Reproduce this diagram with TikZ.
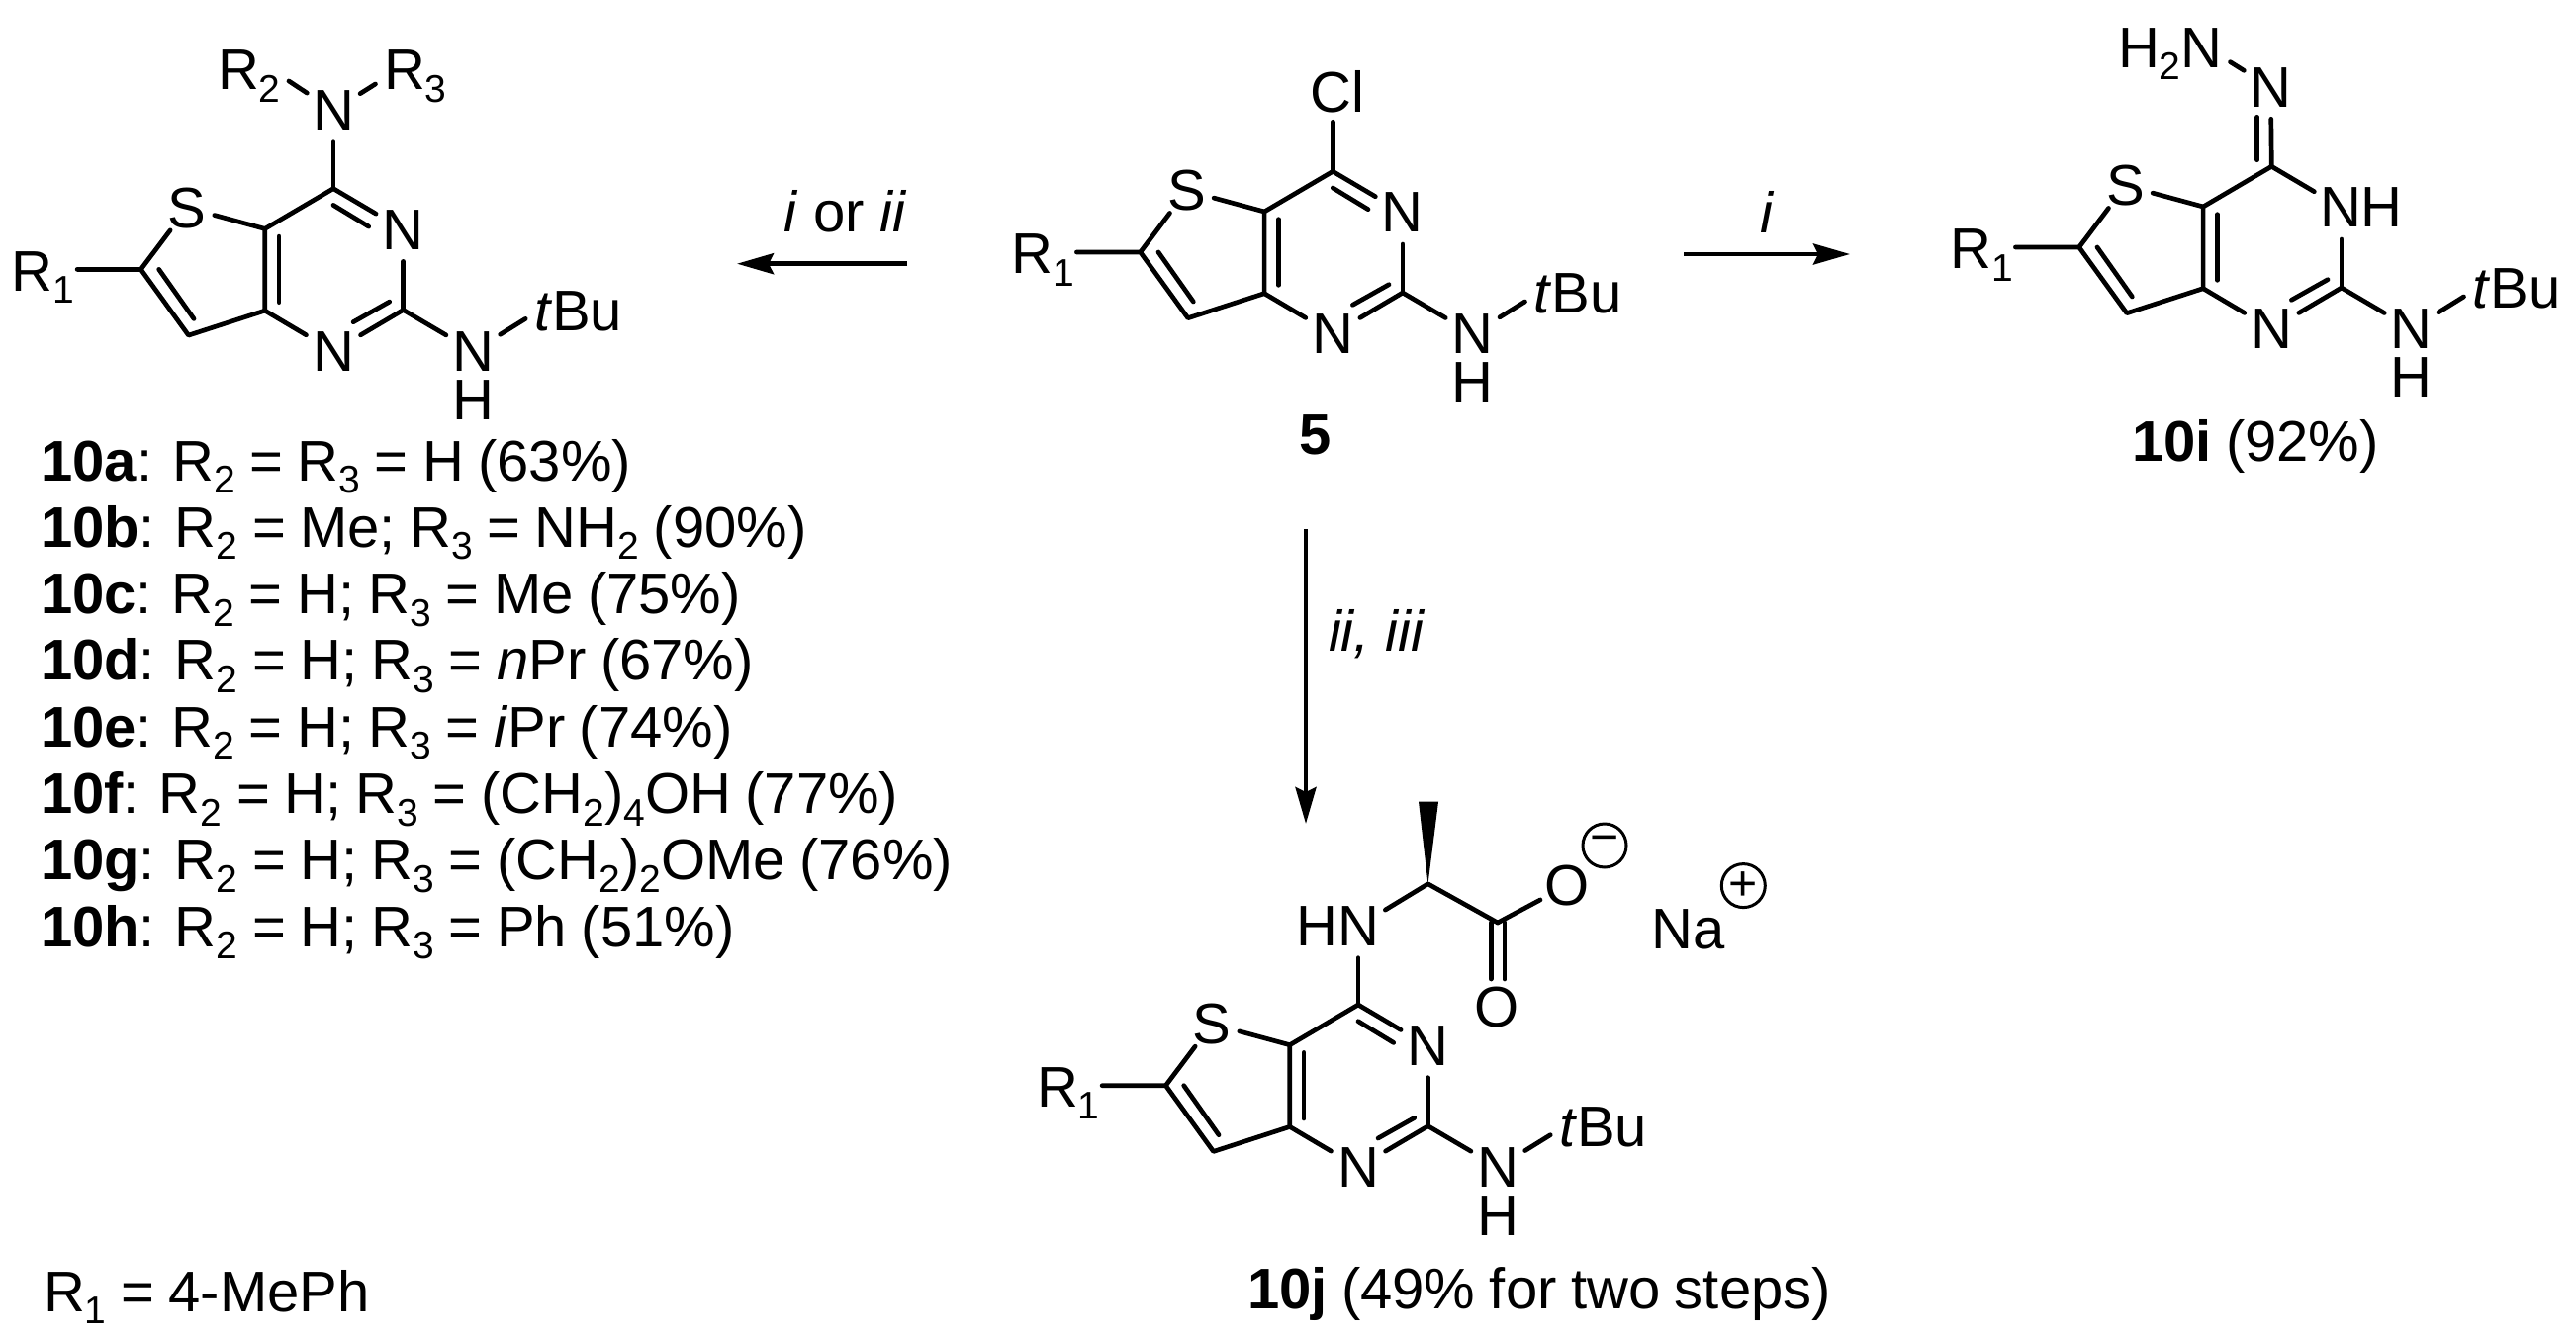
\documentclass[tikz,border=0pt]{standalone}
\usepackage{fontspec}
\setmainfont{Liberation Sans}
\usetikzlibrary{arrows.meta}
\newcommand{\sbs}[1]{\raisebox{-12.5pt}{\fontsize{39}{40}\selectfont #1}}
\tikzset{
  every node/.style={font=\fontsize{58}{64}\selectfont,inner sep=0pt,outer sep=0pt,text=black},
  atom/.style={circle,minimum size=64pt},
  sulfur/.style={circle,minimum size=57pt},
  oxy/.style={circle,minimum size=58pt},
  lab/.style={anchor=base west},
  listline/.style={anchor=base west,execute at begin node={\spaceskip=14.5pt\relax}},
  bond/.style={line width=4.7pt,line cap=round,line join=round},
  rxn/.style={line width=4.7pt,-{Stealth[length=37pt,width=21pt,inset=5pt]}},
  charge/.style={circle,draw,line width=3pt,minimum size=44pt,font=\fontsize{50}{50}\selectfont}
}
% common thienopyrimidine core, placed by its C4 atom
\newcommand{\core}[3]{%
\begin{scope}[shift={(#2,#3)}]
  \coordinate (#1c4) at (0,0);
  \coordinate (#1c4a) at (-69.2,40.7);
  \coordinate (#1c7a) at (-69.2,123.4);
  \coordinate (#1c2) at (70.6,122.7);
  \coordinate (#1c7) at (-146.4,148.4);
  \coordinate (#1c6) at (-194.6,81.7);
  \coordinate (#1rb) at (-258.9,81.7);
  \coordinate (#1tb) at (194.2,131.7);
  \node[atom] (#1n3) at (70.6,41.7) {N};
  \node[atom] (#1n1) at (0,164.4) {N};
  \node[sulfur] (#1s) at (-147.7,19.4) {S};
  \node[atom] (#1nh) at (141.5,164.4) {N};
  \node (#1h) at (141.5,213.4) {H};
  \node[lab] (#1tbu) at (203,143.4) {\textit{t}Bu};
  \node[lab] (#1r1) at (-325,103.4) {R\sbs{1}};
  \draw[bond] (#1c4) -- (#1c4a) -- (#1c7a) -- (#1c7) -- (#1c6) -- (#1rb);
  \draw[bond] (#1c6) -- (#1s);
  \draw[bond] (#1s) -- (#1c4a);
  \draw[bond] (#1c4) -- (#1n3);
  \draw[bond] (#1n3) -- (#1c2);
  \draw[bond] (#1c2) -- (#1n1);
  \draw[bond] (#1n1) -- (#1c7a);
  \draw[bond] (#1c2) -- (#1nh);
  \draw[bond] (#1nh) -- (#1tb);
  \coordinate (#1d1a) at (-54.9,48.4);
  \coordinate (#1d1b) at (-54.9,115);
  \draw[bond] (#1d1a) -- (#1d1b);
  \coordinate (#1d2a) at (-176.3,81.7);
  \coordinate (#1d2b) at (-141,131.7);
  \draw[bond] (#1d2a) -- (#1d2b);
  \coordinate (#1d3a) at (56.7,114.4);
  \coordinate (#1d3b) at (20.1,135);
  \draw[bond] (#1d3a) -- (#1d3b);
  \coordinate (#1d4a) at (0,16.7);
  \coordinate (#1d4b) at (35.7,38.4);
\end{scope}}
\begin{document}
\begin{tikzpicture}[x=1pt,y=-1pt]
\useasboundingbox (0,0) rectangle (2604,1354);
% --- compound 5
\core{e}{1347.3}{173.3}
\draw[bond] (ed4a) -- (ed4b);
\node (cl) at (1352,93) {Cl};
\coordinate (clb) at (1347.3,123.3);
\draw[bond] (ec4) -- (clb);
\node[anchor=base] (five) at (1330,459) {\textbf{5}};
% --- compounds 10a-h
\core{a}{337}{190.7}
\draw[bond] (ad4a) -- (ad4b);
\node[atom] (an) at (337,111.7) {N};
\node[lab] (ar2) at (220,90.7) {R\sbs{2}};
\node[lab] (ar3) at (388,90.7) {R\sbs{3}};
\coordinate (ar2b) at (292,82);
\coordinate (ar3b) at (379.5,85);
\draw[bond] (ac4) -- (an);
\draw[bond] (an) -- (ar2b);
\draw[bond] (an) -- (ar3b);
\node[listline] (l1) at (41,486) {\textbf{10a}: R\sbs{2} = R\sbs{3} = H (63\%)};
\node[listline] (l2) at (41,553.3) {\textbf{10b}: R\sbs{2} = Me; R\sbs{3} = NH\sbs{2} (90\%)};
\node[listline] (l3) at (41,620.6) {\textbf{10c}: R\sbs{2} = H; R\sbs{3} = Me (75\%)};
\node[listline] (l4) at (41,687.9) {\textbf{10d}: R\sbs{2} = H; R\sbs{3} = \textit{n}Pr (67\%)};
\node[listline] (l5) at (41,755.2) {\textbf{10e}: R\sbs{2} = H; R\sbs{3} = \textit{i}Pr (74\%)};
\node[listline] (l6) at (41,822.5) {\textbf{10f}: R\sbs{2} = H; R\sbs{3} = (CH\sbs{2})\sbs{4}OH (77\%)};
\node[listline] (l7) at (41,889.8) {\textbf{10g}: R\sbs{2} = H; R\sbs{3} = (CH\sbs{2})\sbs{2}OMe (76\%)};
\node[listline] (l8) at (41,957.1) {\textbf{10h}: R\sbs{2} = H; R\sbs{3} = Ph (51\%)};
\node[listline] (rdef) at (44,1326) {R\sbs{1} = 4-MePh};
% --- compound 10i
\core{b}{2296.3}{168.3}
\node (bnhh) at (2407,210) {H};
\node[atom] (bn) at (2295.4,88.3) {N};
\node[lab] (bh2n) at (2141,68.3) {H\sbs{2}N};
\coordinate (bnb) at (2254.5,62.7);
\draw[bond] (bc4) -- (bn);
\draw[bond] (bn) -- (bnb);
\coordinate (bd5a) at (2281.7,118.3);
\coordinate (bd5b) at (2281.7,161.7);
\draw[bond] (bd5a) -- (bd5b);
\node[listline] (bcap) at (2155,466) {\textbf{10i} (92\%)};
% --- compound 10j
\core{j}{1373}{1016}
\draw[bond] (jd4a) -- (jd4b);
\node[atom] (jn) at (1373,936.7) {N};
\node (jhh) at (1331,936.7) {H};
\coordinate (jca) at (1443.5,893.8);
\coordinate (jco) at (1513.9,933);
\node[oxy] (jom) at (1583.8,895.6) {O};
\node[oxy] (jo) at (1513.4,1018.4) {O};
\node[charge] (jminus) at (1622,855) {\raisebox{2pt}{−}};
\node (jna) at (1707,940) {Na};
\node[charge] (jplus) at (1762.3,895.6) {+};
\coordinate (jw1) at (1434,810.7);
\coordinate (jw2) at (1454,810.7);
\coordinate (jco1) at (1507.2,933);
\coordinate (jco2) at (1521,933);
\coordinate (jo1) at (1507.2,990);
\coordinate (jo2) at (1521,990);
\fill (jca) -- (jw1) -- (jw2) -- cycle;
\draw[bond] (jc4) -- (jn);
\draw[bond] (jn) -- (jca) -- (jco);
\draw[bond] (jco) -- (jom);
\draw[bond] (jco1) -- (jo1);
\draw[bond] (jco2) -- (jo2);
\node[listline] (jcap) at (1261,1323) {\textbf{10j} (49\% for two steps)};
% --- reaction arrows
\coordinate (a1s) at (917,266.7);
\coordinate (a1e) at (745,266.7);
\coordinate (a2s) at (1702,257);
\coordinate (a2e) at (1870,257);
\coordinate (a3s) at (1320,535);
\coordinate (a3e) at (1320,833);
\draw[rxn] (a1s) -- (a1e);
\draw[rxn] (a2s) -- (a2e);
\draw[rxn] (a3s) -- (a3e);
\node[lab] (r1) at (792,234) {\textit{i} or \textit{ii}};
\node[anchor=base] (r2) at (1787,235) {\textit{i}};
\node[lab] (r3) at (1343,658) {\textit{ii, iii}};
\end{tikzpicture}
\end{document}
